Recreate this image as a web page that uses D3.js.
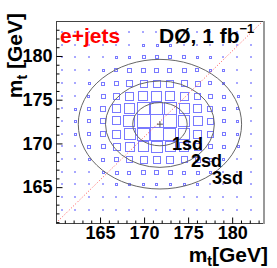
<!DOCTYPE html>
<html>
<head>
<meta charset="utf-8">
<script src="https://cdn.jsdelivr.net/npm/d3@7"></script>
<style>
  body { margin: 0; background: #fff; }
  text { font-family: "Liberation Sans", Arial, sans-serif; font-weight: bold; }
</style>
</head>
<body>
<script>
// bin centres of the 2D histogram (GeV)
const xCenters = [160.7, 162.2, 163.7, 165.3, 166.8, 168.3, 169.9, 171.4, 172.9, 174.5, 176.0, 177.5, 179.0, 180.6, 182.1]
const yCenters = [182.7, 181.3, 179.9, 178.4, 176.9, 175.4, 174.0, 172.6, 171.1, 169.7, 168.2, 166.7, 165.4, 163.9, 162.4]

// bin contents, one row per yCenter (top to bottom)
const binRows = [
  [1, 1, 1, 1, 1, 1.2, 1.2, 1.2, 1.2, 1.2, 1.2, 1, 1, 1, 1],
  [1, 1, 1, 1.2, 1.4, 1.6, 1.8, 1.8, 1.8, 1.6, 1.5, 1.3, 1.2, 1, 1],
  [1, 1, 1.2, 1.5, 2, 2.5, 3, 3, 3, 2.8, 2.3, 1.8, 1.4, 1.2, 1],
  [1, 1.2, 1.5, 2.2, 3, 3.8, 4.3, 4.5, 4.3, 4, 3.3, 2.5, 1.8, 1.3, 1],
  [1, 1.3, 2, 3, 4.5, 6, 6.8, 7, 6.8, 6, 4.8, 3.5, 2.3, 1.5, 1.1],
  [1.1, 1.5, 2.5, 4, 6.3, 8.3, 9.5, 10, 9.5, 8.3, 6.5, 4.5, 2.8, 1.7, 1.2],
  [1.2, 1.8, 3, 5, 8, 10.5, 12, 12.5, 12, 10.3, 8, 5.5, 3.3, 2, 1.3],
  [1.2, 2, 3.3, 5.5, 8.5, 11.5, 13, 13.3, 13, 11.3, 8.7, 6, 3.5, 2, 1.3],
  [1.2, 1.9, 3.2, 5.2, 8.2, 11, 12.5, 13, 12.5, 10.8, 8.3, 5.7, 3.3, 2, 1.3],
  [1.1, 1.6, 2.7, 4.3, 6.7, 9, 10.3, 10.7, 10.3, 8.8, 6.7, 4.5, 2.8, 1.7, 1.2],
  [1, 1.3, 2, 3, 4.5, 6, 7, 7.3, 7, 6, 4.6, 3.2, 2.1, 1.4, 1.1],
  [1, 1.1, 1.5, 2, 2.7, 3.4, 3.8, 4, 3.8, 3.3, 2.7, 2, 1.5, 1.2, 1],
  [1, 1, 1.2, 1.4, 1.7, 2, 2.2, 2.3, 2.2, 2, 1.7, 1.4, 1.2, 1, 1],
  [1, 1, 1, 1, 1.1, 1.2, 1.3, 1.3, 1.3, 1.2, 1.1, 1, 1, 1, 1],
  [1, 1, 1, 1, 1, 1, 1, 1, 1, 1, 1, 1, 1, 1, 1]
]

// fitted mean and widths for the contours (GeV)
const fitMean = [171.8, 172.2]
const fitSigma = [3.09, 2.47]
const contourLevels = [1, 2, 3]
const contourNames = ["1sd", "2sd", "3sd"]

const xTicks = [165, 170, 175, 180]
const yTicks = [165, 170, 175, 180]

const W = 277, H = 268
const frame = {left: 56, right: 263, top: 21, bottom: 223}

const svg = d3.select("body").append("svg")
    .attr("width", W)
    .attr("height", H)

const x = d3.scaleLinear().domain([160, 183.5]).range([frame.left, frame.right])
const y = d3.scaleLinear().domain([160.9, 184]).range([frame.bottom, frame.top])

const binPx = x(161.5) - x(160)
const size = d3.scaleLinear()
    .domain([0, d3.max(binRows, r => d3.max(r))])
    .range([0, binPx])

// flatten the table into cells
const cells = []
binRows.forEach((row, i) => row.forEach((v, j) => {
  cells.push({x: xCenters[j], y: yCenters[i], v: v})
}))

// tiny bins show up as faint dots, the rest as open boxes
const small = cells.filter(d => size(d.v) < 1.6)
const big = cells.filter(d => size(d.v) >= 1.6)

svg.append("g").selectAll("rect")
    .data(small)
    .enter()
    .append("rect")
        .attr("x", d => Math.round(x(d.x)) - 1)
        .attr("y", d => Math.round(y(d.y)) - 1)
        .attr("width", 2)
        .attr("height", 2)
        .attr("fill", "#a8a8ff")

svg.append("g").selectAll("rect")
    .data(big)
    .enter()
    .append("rect")
        .attr("x", d => Math.round(x(d.x) - size(d.v) / 2) + 0.5)
        .attr("y", d => Math.round(y(d.y) - size(d.v) / 2) + 0.5)
        .attr("width", d => Math.round(size(d.v)))
        .attr("height", d => Math.round(size(d.v)))
        .attr("fill", "none")
        .attr("stroke", "#7a7aff")
        .attr("stroke-width", 1)

// diagonal m = m
svg.append("line")
    .attr("x1", x(x.domain()[0])).attr("y1", y(y.domain()[0]))
    .attr("x2", x(x.domain()[1])).attr("y2", y(y.domain()[1]))
    .attr("stroke", "#ff5050")
    .attr("stroke-width", 1)
    .attr("stroke-dasharray", "1,2")

// contour ellipses
svg.append("g").selectAll("ellipse")
    .data(contourLevels)
    .enter()
    .append("ellipse")
        .attr("cx", x(fitMean[0]))
        .attr("cy", y(fitMean[1]))
        .attr("rx", k => x(fitMean[0] + k * fitSigma[0]) - x(fitMean[0]))
        .attr("ry", k => y(fitMean[1]) - y(fitMean[1] + k * fitSigma[1]))
        .attr("fill", "none")
        .attr("stroke", "#666")
        .attr("stroke-width", 1)

// marker at the mean
svg.append("path")
    .attr("d", "M-3,0H3M0,-3V3")
    .attr("transform", "translate(" + x(fitMean[0]) + "," + y(fitMean[1]) + ")")
    .attr("stroke", "#555")
    .attr("stroke-width", 1)
    .attr("fill", "none")

// contour labels
const labelPos = [[172, 150], [191, 167], [212, 184]]
svg.selectAll("text.sd")
    .data(contourNames)
    .enter()
    .append("text")
        .attr("class", "sd")
        .attr("x", (d, i) => labelPos[i][0])
        .attr("y", (d, i) => labelPos[i][1])
        .attr("font-size", 18)
        .text(d => d)

// frame
svg.append("rect")
    .attr("x", frame.left + 0.5).attr("y", frame.top + 0.5)
    .attr("width", frame.right - frame.left).attr("height", frame.bottom - frame.top)
    .attr("fill", "none")
    .attr("stroke", "#444")
svg.append("line")
    .attr("x1", frame.right + 1).attr("x2", frame.right + 1)
    .attr("y1", frame.top).attr("y2", frame.bottom + 1)
    .attr("stroke", "#999")
    .attr("stroke-width", 2)

// axes, ROOT style ticks pointing inside
const xMinor = d3.range(161, 184).filter(v => xTicks.indexOf(v) < 0)
const yMinor = d3.range(161, 184).filter(v => yTicks.indexOf(v) < 0)

const xAxis = svg.append("g")
    .attr("transform", "translate(0," + (frame.bottom + 0.5) + ")")
    .call(d3.axisBottom(x).tickValues(xTicks).tickSize(-6).tickPadding(3).tickFormat(d3.format("d")))
xAxis.select(".domain").remove()
xAxis.selectAll("text").attr("font-size", 18).attr("font-family", "Liberation Sans").attr("font-weight", "bold").attr("fill", "#000")
svg.append("g")
    .attr("transform", "translate(0," + (frame.bottom + 0.5) + ")")
    .call(d3.axisBottom(x).tickValues(xMinor).tickSize(-3).tickFormat(""))
    .select(".domain").remove()

const yAxis = svg.append("g")
    .attr("transform", "translate(" + (frame.left + 0.5) + ",0)")
    .call(d3.axisLeft(y).tickValues(yTicks).tickSize(-6).tickPadding(4).tickFormat(d3.format("d")))
yAxis.select(".domain").remove()
yAxis.selectAll("text").attr("font-size", 18).attr("font-family", "Liberation Sans").attr("font-weight", "bold").attr("fill", "#000")
svg.append("g")
    .attr("transform", "translate(" + (frame.left + 0.5) + ",0)")
    .call(d3.axisLeft(y).tickValues(yMinor).tickSize(-3).tickFormat(""))
    .select(".domain").remove()

// axis titles
const xt = svg.append("text")
    .attr("x", 268).attr("y", 262)
    .attr("text-anchor", "end")
    .attr("font-size", 21)
xt.append("tspan").text("m")
xt.append("tspan").attr("font-size", 14).attr("dy", 4).text("t")
xt.append("tspan").attr("dy", -4).text("[GeV]")

const yt = svg.append("text")
    .attr("transform", "translate(22,13) rotate(-90)")
    .attr("text-anchor", "end")
    .attr("font-size", 21)
yt.append("tspan").text("m")
yt.append("tspan").attr("font-size", 14).attr("dy", 5).text("t")
yt.append("tspan").attr("dy", -5).text(" [GeV]")

// legend texts
svg.append("text")
    .attr("x", 60).attr("y", 43)
    .attr("font-size", 21)
    .attr("fill", "#ff0000")
    .text("e+jets")

const lum = svg.append("text")
    .attr("x", 159).attr("y", 43)
    .attr("font-size", 21)
lum.append("tspan").text("DØ, 1 fb")
lum.append("tspan").attr("font-size", 13).attr("dy", -10).text("−1")
</script>
</body>
</html>
